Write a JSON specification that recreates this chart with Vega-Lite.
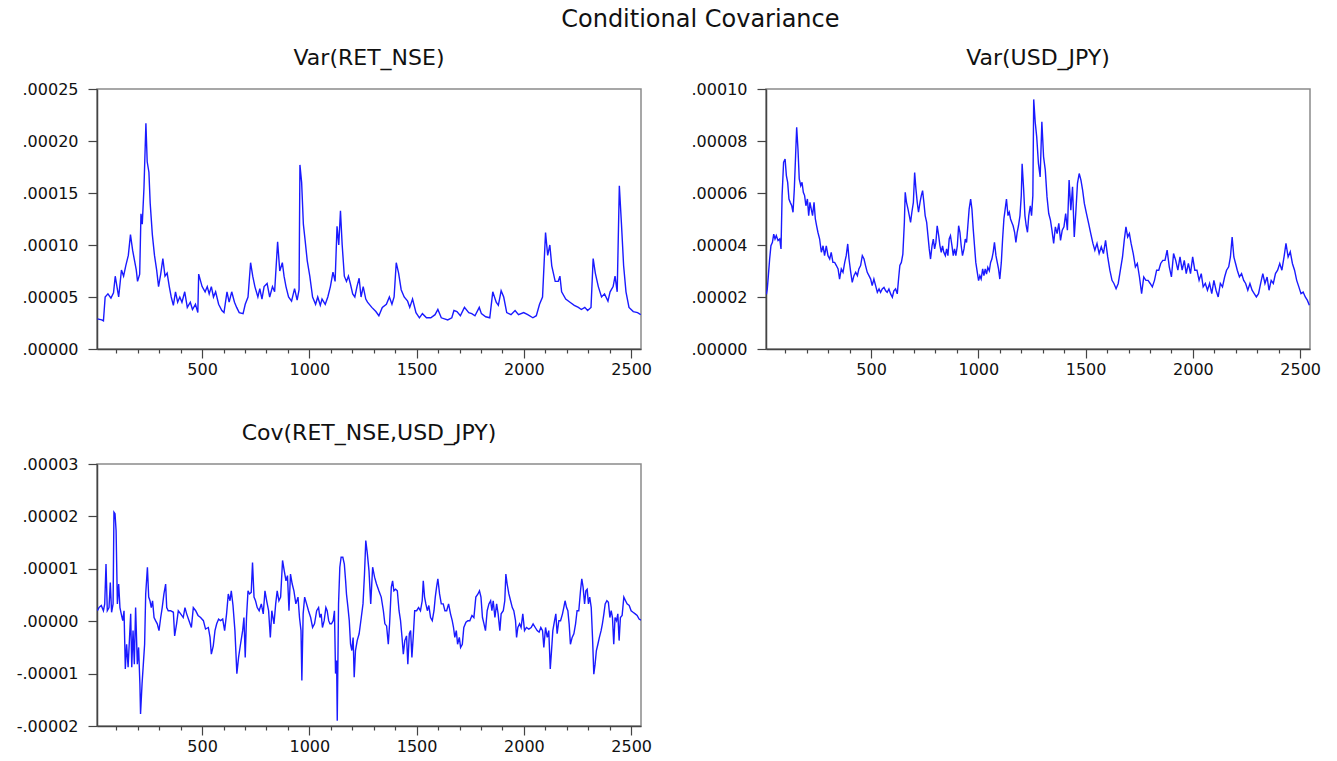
{
"$schema": "https://vega.github.io/schema/vega-lite/v6.json",
"background": "white",
"padding": {"left": 15, "top": 8, "right": 5, "bottom": 5},
"title": {"text": "Conditional Covariance", "font": "DejaVu Sans", "fontSize": 24, "fontWeight": "normal", "color": "#111", "anchor": "middle", "dx": 32, "offset": 14},
"bounds": "flush",
"columns": 2,
"spacing": {"row": 115, "column": 125},
"config": {
  "view": {"stroke": "#8a8a8a", "strokeWidth": 1.5},
  "axis": {"labelFont": "DejaVu Sans", "labelFontSize": 16, "labelColor": "#111", "domainColor": "#444", "domainWidth": 1.5, "tickColor": "#444", "tickWidth": 1.2, "grid": false},
  "title": {"font": "DejaVu Sans", "fontSize": 22, "fontWeight": "normal", "color": "#111", "anchor": "middle", "offset": 11}
},
"datasets": {
"nse": [{"t":12,"v":2.9e-5},{"t":32,"v":2.8e-5},{"t":40,"v":2.7e-5},{"t":48,"v":5.0e-5},{"t":61,"v":5.3e-5},{"t":75,"v":4.9e-5},{"t":87,"v":5.4e-5},{"t":95,"v":7.0e-5},{"t":111,"v":5.0e-5},{"t":124,"v":7.6e-5},{"t":134,"v":7.0e-5},{"t":144,"v":8.0e-5},{"t":156,"v":9.0e-5},{"t":166,"v":11.0e-5},{"t":176,"v":9.5e-5},{"t":185,"v":8.5e-5},{"t":193,"v":7.6e-5},{"t":199,"v":6.5e-5},{"t":209,"v":7.2e-5},{"t":215,"v":13.0e-5},{"t":221,"v":12.0e-5},{"t":229,"v":15.5e-5},{"t":238,"v":21.7e-5},{"t":244,"v":18.0e-5},{"t":252,"v":17.0e-5},{"t":258,"v":14.0e-5},{"t":268,"v":11.0e-5},{"t":278,"v":9.0e-5},{"t":288,"v":7.6e-5},{"t":297,"v":6.0e-5},{"t":307,"v":7.2e-5},{"t":317,"v":8.7e-5},{"t":327,"v":7.0e-5},{"t":337,"v":7.3e-5},{"t":347,"v":6.0e-5},{"t":356,"v":5.0e-5},{"t":366,"v":4.2e-5},{"t":376,"v":5.5e-5},{"t":386,"v":4.5e-5},{"t":396,"v":5.0e-5},{"t":406,"v":4.5e-5},{"t":419,"v":5.5e-5},{"t":431,"v":4.0e-5},{"t":445,"v":4.5e-5},{"t":455,"v":3.8e-5},{"t":469,"v":4.3e-5},{"t":480,"v":3.5e-5},{"t":484,"v":7.2e-5},{"t":500,"v":6.0e-5},{"t":514,"v":5.5e-5},{"t":524,"v":6.0e-5},{"t":533,"v":5.3e-5},{"t":543,"v":6.0e-5},{"t":553,"v":5.0e-5},{"t":563,"v":5.5e-5},{"t":577,"v":4.3e-5},{"t":592,"v":3.7e-5},{"t":602,"v":3.5e-5},{"t":616,"v":5.5e-5},{"t":626,"v":4.5e-5},{"t":638,"v":5.5e-5},{"t":651,"v":4.5e-5},{"t":661,"v":4.0e-5},{"t":673,"v":3.5e-5},{"t":691,"v":3.4e-5},{"t":701,"v":4.3e-5},{"t":714,"v":5.0e-5},{"t":726,"v":8.3e-5},{"t":736,"v":7.0e-5},{"t":746,"v":6.0e-5},{"t":760,"v":5.0e-5},{"t":769,"v":5.8e-5},{"t":779,"v":4.8e-5},{"t":789,"v":6.0e-5},{"t":803,"v":6.3e-5},{"t":815,"v":5.0e-5},{"t":828,"v":6.0e-5},{"t":838,"v":5.5e-5},{"t":852,"v":10.3e-5},{"t":862,"v":7.5e-5},{"t":874,"v":8.3e-5},{"t":882,"v":7.0e-5},{"t":891,"v":6.0e-5},{"t":903,"v":5.0e-5},{"t":917,"v":4.6e-5},{"t":931,"v":5.8e-5},{"t":943,"v":4.7e-5},{"t":952,"v":5.7e-5},{"t":956,"v":17.7e-5},{"t":964,"v":16.0e-5},{"t":972,"v":12.0e-5},{"t":980,"v":10.5e-5},{"t":990,"v":8.5e-5},{"t":1002,"v":7.0e-5},{"t":1015,"v":5.0e-5},{"t":1029,"v":4.3e-5},{"t":1039,"v":5.0e-5},{"t":1051,"v":4.2e-5},{"t":1059,"v":4.8e-5},{"t":1074,"v":4.3e-5},{"t":1086,"v":5.0e-5},{"t":1098,"v":6.0e-5},{"t":1110,"v":7.4e-5},{"t":1120,"v":6.5e-5},{"t":1129,"v":11.8e-5},{"t":1137,"v":10.0e-5},{"t":1145,"v":13.3e-5},{"t":1153,"v":10.0e-5},{"t":1163,"v":7.0e-5},{"t":1173,"v":6.5e-5},{"t":1182,"v":7.0e-5},{"t":1192,"v":6.2e-5},{"t":1202,"v":5.3e-5},{"t":1212,"v":5.0e-5},{"t":1222,"v":6.0e-5},{"t":1232,"v":6.8e-5},{"t":1241,"v":5.0e-5},{"t":1251,"v":6.0e-5},{"t":1263,"v":4.8e-5},{"t":1271,"v":4.5e-5},{"t":1291,"v":4.0e-5},{"t":1310,"v":3.6e-5},{"t":1324,"v":3.2e-5},{"t":1340,"v":4.0e-5},{"t":1359,"v":4.3e-5},{"t":1373,"v":5.0e-5},{"t":1385,"v":4.3e-5},{"t":1395,"v":5.0e-5},{"t":1405,"v":8.3e-5},{"t":1416,"v":7.3e-5},{"t":1428,"v":5.7e-5},{"t":1442,"v":5.0e-5},{"t":1458,"v":4.6e-5},{"t":1468,"v":4.0e-5},{"t":1481,"v":4.8e-5},{"t":1497,"v":3.5e-5},{"t":1513,"v":3.0e-5},{"t":1527,"v":3.4e-5},{"t":1546,"v":3.0e-5},{"t":1566,"v":3.0e-5},{"t":1586,"v":3.3e-5},{"t":1599,"v":3.8e-5},{"t":1615,"v":3.0e-5},{"t":1645,"v":2.8e-5},{"t":1664,"v":3.0e-5},{"t":1674,"v":3.7e-5},{"t":1688,"v":3.6e-5},{"t":1704,"v":3.2e-5},{"t":1723,"v":4.0e-5},{"t":1743,"v":3.5e-5},{"t":1757,"v":3.4e-5},{"t":1772,"v":3.2e-5},{"t":1792,"v":4.0e-5},{"t":1802,"v":3.4e-5},{"t":1822,"v":3.1e-5},{"t":1841,"v":3.0e-5},{"t":1855,"v":5.5e-5},{"t":1871,"v":4.5e-5},{"t":1881,"v":4.2e-5},{"t":1894,"v":5.6e-5},{"t":1906,"v":5.0e-5},{"t":1920,"v":3.5e-5},{"t":1940,"v":3.3e-5},{"t":1959,"v":3.7e-5},{"t":1975,"v":3.3e-5},{"t":1999,"v":3.5e-5},{"t":2018,"v":3.3e-5},{"t":2042,"v":3.0e-5},{"t":2058,"v":3.2e-5},{"t":2073,"v":4.3e-5},{"t":2087,"v":5.0e-5},{"t":2101,"v":11.2e-5},{"t":2111,"v":9.0e-5},{"t":2121,"v":10.0e-5},{"t":2130,"v":8.0e-5},{"t":2146,"v":6.5e-5},{"t":2160,"v":6.5e-5},{"t":2168,"v":7.0e-5},{"t":2176,"v":5.5e-5},{"t":2195,"v":4.8e-5},{"t":2215,"v":4.5e-5},{"t":2235,"v":4.2e-5},{"t":2254,"v":4.0e-5},{"t":2268,"v":3.8e-5},{"t":2284,"v":4.0e-5},{"t":2297,"v":3.7e-5},{"t":2313,"v":4.0e-5},{"t":2323,"v":8.7e-5},{"t":2333,"v":7.3e-5},{"t":2347,"v":6.0e-5},{"t":2362,"v":5.0e-5},{"t":2376,"v":5.3e-5},{"t":2392,"v":4.6e-5},{"t":2402,"v":5.5e-5},{"t":2416,"v":6.0e-5},{"t":2425,"v":7.0e-5},{"t":2435,"v":5.5e-5},{"t":2445,"v":15.7e-5},{"t":2455,"v":12.0e-5},{"t":2465,"v":8.0e-5},{"t":2476,"v":5.5e-5},{"t":2490,"v":4.0e-5},{"t":2510,"v":3.6e-5},{"t":2530,"v":3.5e-5},{"t":2545,"v":3.3e-5}],
"jpy": [{"t":12,"v":2.1e-5},{"t":16,"v":2.31e-5},{"t":21,"v":2.82e-5},{"t":27,"v":3.46e-5},{"t":33,"v":3.97e-5},{"t":40,"v":4.1e-5},{"t":46,"v":4.42e-5},{"t":52,"v":4.23e-5},{"t":58,"v":4.36e-5},{"t":66,"v":4.17e-5},{"t":74,"v":4.23e-5},{"t":80,"v":3.85e-5},{"t":85,"v":5.9e-5},{"t":92,"v":7.18e-5},{"t":99,"v":7.31e-5},{"t":105,"v":6.67e-5},{"t":111,"v":6.41e-5},{"t":117,"v":5.77e-5},{"t":123,"v":5.64e-5},{"t":130,"v":5.51e-5},{"t":136,"v":5.26e-5},{"t":142,"v":6.15e-5},{"t":148,"v":7.44e-5},{"t":153,"v":8.53e-5},{"t":159,"v":7.69e-5},{"t":165,"v":6.54e-5},{"t":172,"v":6.28e-5},{"t":178,"v":6.41e-5},{"t":184,"v":6.03e-5},{"t":190,"v":5.9e-5},{"t":196,"v":5.51e-5},{"t":203,"v":5.77e-5},{"t":209,"v":5.13e-5},{"t":215,"v":5.64e-5},{"t":221,"v":5.38e-5},{"t":227,"v":5.13e-5},{"t":234,"v":5.64e-5},{"t":240,"v":5.0e-5},{"t":246,"v":4.74e-5},{"t":252,"v":4.49e-5},{"t":260,"v":4.23e-5},{"t":268,"v":3.72e-5},{"t":276,"v":3.97e-5},{"t":283,"v":3.59e-5},{"t":291,"v":3.97e-5},{"t":299,"v":3.59e-5},{"t":307,"v":3.46e-5},{"t":314,"v":3.72e-5},{"t":322,"v":3.33e-5},{"t":330,"v":3.33e-5},{"t":338,"v":3.21e-5},{"t":346,"v":3.08e-5},{"t":353,"v":2.69e-5},{"t":361,"v":3.08e-5},{"t":369,"v":2.95e-5},{"t":377,"v":3.33e-5},{"t":384,"v":3.59e-5},{"t":391,"v":4.04e-5},{"t":397,"v":3.46e-5},{"t":405,"v":2.95e-5},{"t":412,"v":2.56e-5},{"t":420,"v":2.82e-5},{"t":428,"v":2.95e-5},{"t":436,"v":2.82e-5},{"t":443,"v":3.08e-5},{"t":451,"v":3.21e-5},{"t":459,"v":3.59e-5},{"t":467,"v":3.46e-5},{"t":474,"v":3.21e-5},{"t":482,"v":2.95e-5},{"t":490,"v":2.82e-5},{"t":498,"v":2.69e-5},{"t":505,"v":2.44e-5},{"t":513,"v":2.69e-5},{"t":521,"v":2.44e-5},{"t":529,"v":2.18e-5},{"t":537,"v":2.31e-5},{"t":544,"v":2.18e-5},{"t":552,"v":2.31e-5},{"t":560,"v":2.37e-5},{"t":568,"v":2.24e-5},{"t":575,"v":2.18e-5},{"t":583,"v":2.31e-5},{"t":591,"v":2.12e-5},{"t":599,"v":1.99e-5},{"t":606,"v":2.24e-5},{"t":614,"v":2.31e-5},{"t":622,"v":2.12e-5},{"t":628,"v":2.69e-5},{"t":634,"v":3.21e-5},{"t":641,"v":3.33e-5},{"t":648,"v":3.65e-5},{"t":655,"v":4.87e-5},{"t":659,"v":6.03e-5},{"t":665,"v":5.64e-5},{"t":672,"v":5.38e-5},{"t":678,"v":5.13e-5},{"t":684,"v":4.87e-5},{"t":690,"v":5.26e-5},{"t":697,"v":5.64e-5},{"t":703,"v":6.79e-5},{"t":709,"v":6.15e-5},{"t":715,"v":5.64e-5},{"t":721,"v":5.26e-5},{"t":728,"v":5.64e-5},{"t":734,"v":5.9e-5},{"t":740,"v":6.09e-5},{"t":746,"v":5.64e-5},{"t":752,"v":5.13e-5},{"t":759,"v":4.87e-5},{"t":765,"v":4.36e-5},{"t":771,"v":3.85e-5},{"t":777,"v":3.46e-5},{"t":784,"v":3.97e-5},{"t":790,"v":4.23e-5},{"t":796,"v":3.85e-5},{"t":802,"v":4.1e-5},{"t":808,"v":4.74e-5},{"t":815,"v":4.36e-5},{"t":821,"v":3.97e-5},{"t":827,"v":3.72e-5},{"t":833,"v":3.97e-5},{"t":839,"v":3.72e-5},{"t":846,"v":3.59e-5},{"t":852,"v":3.85e-5},{"t":858,"v":3.59e-5},{"t":864,"v":4.23e-5},{"t":870,"v":4.36e-5},{"t":877,"v":3.97e-5},{"t":883,"v":3.59e-5},{"t":889,"v":3.85e-5},{"t":895,"v":3.59e-5},{"t":902,"v":3.97e-5},{"t":908,"v":4.74e-5},{"t":914,"v":4.49e-5},{"t":920,"v":3.97e-5},{"t":926,"v":3.59e-5},{"t":933,"v":3.85e-5},{"t":939,"v":4.23e-5},{"t":945,"v":4.1e-5},{"t":951,"v":4.74e-5},{"t":957,"v":5.38e-5},{"t":964,"v":5.77e-5},{"t":970,"v":5.38e-5},{"t":976,"v":4.62e-5},{"t":982,"v":3.97e-5},{"t":988,"v":3.33e-5},{"t":995,"v":2.95e-5},{"t":1001,"v":2.63e-5},{"t":1007,"v":2.82e-5},{"t":1013,"v":2.69e-5},{"t":1020,"v":3.08e-5},{"t":1026,"v":2.82e-5},{"t":1032,"v":3.08e-5},{"t":1038,"v":2.88e-5},{"t":1044,"v":3.14e-5},{"t":1051,"v":3.01e-5},{"t":1057,"v":3.33e-5},{"t":1063,"v":3.46e-5},{"t":1069,"v":3.72e-5},{"t":1075,"v":4.1e-5},{"t":1082,"v":3.59e-5},{"t":1088,"v":3.33e-5},{"t":1094,"v":3.08e-5},{"t":1100,"v":2.69e-5},{"t":1107,"v":3.33e-5},{"t":1113,"v":4.23e-5},{"t":1119,"v":5.0e-5},{"t":1125,"v":5.38e-5},{"t":1131,"v":5.77e-5},{"t":1138,"v":5.13e-5},{"t":1144,"v":5.26e-5},{"t":1150,"v":5.0e-5},{"t":1156,"v":4.87e-5},{"t":1162,"v":4.74e-5},{"t":1169,"v":4.49e-5},{"t":1175,"v":4.1e-5},{"t":1181,"v":4.49e-5},{"t":1187,"v":4.74e-5},{"t":1194,"v":5.13e-5},{"t":1200,"v":5.9e-5},{"t":1204,"v":7.12e-5},{"t":1211,"v":6.15e-5},{"t":1217,"v":5.13e-5},{"t":1223,"v":4.74e-5},{"t":1229,"v":4.49e-5},{"t":1235,"v":5.13e-5},{"t":1242,"v":5.51e-5},{"t":1248,"v":5.13e-5},{"t":1254,"v":5.9e-5},{"t":1258,"v":9.6e-5},{"t":1265,"v":8.72e-5},{"t":1272,"v":8.16e-5},{"t":1280,"v":7.14e-5},{"t":1288,"v":6.62e-5},{"t":1296,"v":8.74e-5},{"t":1304,"v":7.39e-5},{"t":1312,"v":6.88e-5},{"t":1320,"v":5.85e-5},{"t":1328,"v":5.21e-5},{"t":1336,"v":4.96e-5},{"t":1343,"v":4.57e-5},{"t":1351,"v":4.06e-5},{"t":1359,"v":4.7e-5},{"t":1367,"v":4.44e-5},{"t":1375,"v":4.83e-5},{"t":1383,"v":4.18e-5},{"t":1391,"v":4.57e-5},{"t":1399,"v":4.7e-5},{"t":1407,"v":5.21e-5},{"t":1415,"v":4.57e-5},{"t":1423,"v":6.5e-5},{"t":1431,"v":5.34e-5},{"t":1439,"v":6.24e-5},{"t":1447,"v":4.31e-5},{"t":1454,"v":5.21e-5},{"t":1462,"v":6.37e-5},{"t":1470,"v":6.75e-5},{"t":1478,"v":6.5e-5},{"t":1486,"v":6.11e-5},{"t":1494,"v":5.6e-5},{"t":1504,"v":5.21e-5},{"t":1514,"v":4.83e-5},{"t":1524,"v":4.44e-5},{"t":1534,"v":4.06e-5},{"t":1543,"v":3.8e-5},{"t":1553,"v":4.06e-5},{"t":1563,"v":3.67e-5},{"t":1573,"v":3.93e-5},{"t":1583,"v":3.67e-5},{"t":1593,"v":4.18e-5},{"t":1603,"v":3.54e-5},{"t":1613,"v":3.03e-5},{"t":1623,"v":2.64e-5},{"t":1632,"v":2.52e-5},{"t":1642,"v":2.32e-5},{"t":1652,"v":2.52e-5},{"t":1662,"v":3.03e-5},{"t":1672,"v":3.54e-5},{"t":1680,"v":4.18e-5},{"t":1688,"v":4.7e-5},{"t":1696,"v":4.31e-5},{"t":1704,"v":4.44e-5},{"t":1712,"v":4.06e-5},{"t":1722,"v":3.67e-5},{"t":1732,"v":3.16e-5},{"t":1741,"v":3.29e-5},{"t":1751,"v":2.77e-5},{"t":1761,"v":2.13e-5},{"t":1771,"v":2.77e-5},{"t":1781,"v":2.64e-5},{"t":1791,"v":2.64e-5},{"t":1801,"v":2.52e-5},{"t":1811,"v":2.39e-5},{"t":1821,"v":2.64e-5},{"t":1831,"v":3.03e-5},{"t":1841,"v":3.03e-5},{"t":1850,"v":3.29e-5},{"t":1860,"v":3.41e-5},{"t":1870,"v":3.41e-5},{"t":1880,"v":3.8e-5},{"t":1890,"v":3.16e-5},{"t":1900,"v":2.77e-5},{"t":1910,"v":3.67e-5},{"t":1920,"v":3.41e-5},{"t":1930,"v":3.03e-5},{"t":1940,"v":3.54e-5},{"t":1950,"v":3.03e-5},{"t":1960,"v":3.41e-5},{"t":1969,"v":2.9e-5},{"t":1979,"v":3.29e-5},{"t":1989,"v":2.9e-5},{"t":1999,"v":3.54e-5},{"t":2009,"v":3.03e-5},{"t":2019,"v":3.03e-5},{"t":2029,"v":2.64e-5},{"t":2039,"v":2.9e-5},{"t":2048,"v":2.39e-5},{"t":2058,"v":2.52e-5},{"t":2068,"v":2.26e-5},{"t":2078,"v":2.52e-5},{"t":2088,"v":2.13e-5},{"t":2098,"v":2.64e-5},{"t":2108,"v":2.26e-5},{"t":2118,"v":2.0e-5},{"t":2128,"v":2.52e-5},{"t":2138,"v":2.39e-5},{"t":2148,"v":2.77e-5},{"t":2157,"v":3.03e-5},{"t":2167,"v":3.16e-5},{"t":2175,"v":3.54e-5},{"t":2183,"v":4.31e-5},{"t":2191,"v":3.54e-5},{"t":2199,"v":3.29e-5},{"t":2207,"v":3.03e-5},{"t":2217,"v":2.77e-5},{"t":2227,"v":2.9e-5},{"t":2237,"v":2.64e-5},{"t":2246,"v":2.52e-5},{"t":2256,"v":2.26e-5},{"t":2266,"v":2.52e-5},{"t":2276,"v":2.26e-5},{"t":2286,"v":2.13e-5},{"t":2296,"v":2.0e-5},{"t":2306,"v":2.13e-5},{"t":2316,"v":2.52e-5},{"t":2326,"v":2.9e-5},{"t":2336,"v":2.52e-5},{"t":2346,"v":2.77e-5},{"t":2355,"v":2.26e-5},{"t":2365,"v":2.64e-5},{"t":2375,"v":2.52e-5},{"t":2385,"v":2.9e-5},{"t":2395,"v":3.03e-5},{"t":2405,"v":3.29e-5},{"t":2415,"v":3.03e-5},{"t":2425,"v":3.54e-5},{"t":2434,"v":4.06e-5},{"t":2444,"v":3.54e-5},{"t":2454,"v":3.74e-5},{"t":2464,"v":3.29e-5},{"t":2474,"v":3.03e-5},{"t":2484,"v":2.64e-5},{"t":2494,"v":2.39e-5},{"t":2504,"v":2.13e-5},{"t":2514,"v":2.19e-5},{"t":2524,"v":2.0e-5},{"t":2534,"v":1.87e-5},{"t":2543,"v":1.68e-5}],
"cov": [{"t":12,"v":0.2e-5},{"t":19,"v":0.26e-5},{"t":30,"v":0.3e-5},{"t":40,"v":0.2e-5},{"t":46,"v":0.33e-5},{"t":52,"v":1.09e-5},{"t":58,"v":0.2e-5},{"t":66,"v":0.26e-5},{"t":72,"v":0.74e-5},{"t":78,"v":0.17e-5},{"t":85,"v":0.33e-5},{"t":89,"v":2.08e-5},{"t":94,"v":2.05e-5},{"t":99,"v":1.73e-5},{"t":105,"v":0.33e-5},{"t":111,"v":0.71e-5},{"t":117,"v":0.26e-5},{"t":123,"v":0.14e-5},{"t":130,"v":0.01e-5},{"t":136,"v":0.2e-5},{"t":142,"v":-0.91e-5},{"t":148,"v":-0.44e-5},{"t":155,"v":-0.88e-5},{"t":161,"v":-0.37e-5},{"t":167,"v":0.14e-5},{"t":172,"v":-0.88e-5},{"t":178,"v":-0.18e-5},{"t":184,"v":-0.82e-5},{"t":190,"v":0.26e-5},{"t":198,"v":-0.82e-5},{"t":204,"v":-0.5e-5},{"t":210,"v":-1.2e-5},{"t":213,"v":-1.77e-5},{"t":220,"v":-1.2e-5},{"t":226,"v":-0.82e-5},{"t":232,"v":-0.44e-5},{"t":237,"v":0.52e-5},{"t":245,"v":1.03e-5},{"t":251,"v":0.46e-5},{"t":257,"v":0.39e-5},{"t":263,"v":0.26e-5},{"t":269,"v":0.39e-5},{"t":276,"v":0.07e-5},{"t":283,"v":0.01e-5},{"t":291,"v":-0.05e-5},{"t":299,"v":-0.18e-5},{"t":307,"v":0.07e-5},{"t":314,"v":0.26e-5},{"t":322,"v":0.52e-5},{"t":330,"v":0.71e-5},{"t":335,"v":0.26e-5},{"t":342,"v":0.2e-5},{"t":353,"v":0.2e-5},{"t":366,"v":0.17e-5},{"t":372,"v":-0.28e-5},{"t":381,"v":-0.05e-5},{"t":389,"v":0.2e-5},{"t":400,"v":0.14e-5},{"t":412,"v":0.07e-5},{"t":420,"v":0.26e-5},{"t":428,"v":0.14e-5},{"t":439,"v":0.01e-5},{"t":450,"v":-0.12e-5},{"t":459,"v":0.26e-5},{"t":470,"v":0.2e-5},{"t":481,"v":0.11e-5},{"t":493,"v":0.07e-5},{"t":506,"v":0.01e-5},{"t":516,"v":-0.15e-5},{"t":529,"v":-0.12e-5},{"t":537,"v":-0.31e-5},{"t":543,"v":-0.63e-5},{"t":552,"v":-0.47e-5},{"t":560,"v":-0.18e-5},{"t":568,"v":-0.05e-5},{"t":577,"v":0.04e-5},{"t":586,"v":0.01e-5},{"t":596,"v":0.04e-5},{"t":605,"v":-0.18e-5},{"t":614,"v":0.14e-5},{"t":622,"v":0.52e-5},{"t":630,"v":0.39e-5},{"t":636,"v":0.58e-5},{"t":644,"v":0.3e-5},{"t":653,"v":-0.18e-5},{"t":662,"v":-1.0e-5},{"t":670,"v":-0.69e-5},{"t":679,"v":-0.44e-5},{"t":689,"v":-0.18e-5},{"t":695,"v":0.07e-5},{"t":701,"v":-0.69e-5},{"t":707,"v":0.07e-5},{"t":714,"v":0.58e-5},{"t":721,"v":0.52e-5},{"t":729,"v":0.55e-5},{"t":735,"v":1.12e-5},{"t":742,"v":0.46e-5},{"t":749,"v":0.39e-5},{"t":757,"v":0.26e-5},{"t":766,"v":0.2e-5},{"t":776,"v":0.33e-5},{"t":785,"v":0.14e-5},{"t":793,"v":0.58e-5},{"t":801,"v":0.39e-5},{"t":810,"v":0.2e-5},{"t":818,"v":-0.31e-5},{"t":825,"v":0.2e-5},{"t":835,"v":-0.05e-5},{"t":843,"v":0.33e-5},{"t":850,"v":0.58e-5},{"t":858,"v":0.39e-5},{"t":866,"v":0.46e-5},{"t":875,"v":1.16e-5},{"t":883,"v":0.96e-5},{"t":891,"v":0.77e-5},{"t":898,"v":0.87e-5},{"t":905,"v":0.2e-5},{"t":912,"v":0.9e-5},{"t":920,"v":0.71e-5},{"t":928,"v":0.58e-5},{"t":937,"v":0.33e-5},{"t":947,"v":0.46e-5},{"t":954,"v":0.07e-5},{"t":961,"v":-0.18e-5},{"t":965,"v":-1.13e-5},{"t":971,"v":0.14e-5},{"t":978,"v":0.46e-5},{"t":987,"v":0.33e-5},{"t":996,"v":0.2e-5},{"t":1006,"v":0.07e-5},{"t":1015,"v":-0.12e-5},{"t":1024,"v":-0.05e-5},{"t":1034,"v":0.2e-5},{"t":1043,"v":0.26e-5},{"t":1049,"v":0.07e-5},{"t":1055,"v":0.14e-5},{"t":1061,"v":-0.12e-5},{"t":1069,"v":0.01e-5},{"t":1077,"v":0.26e-5},{"t":1083,"v":0.2e-5},{"t":1090,"v":0.01e-5},{"t":1096,"v":-0.05e-5},{"t":1103,"v":-0.05e-5},{"t":1111,"v":0.01e-5},{"t":1117,"v":0.2e-5},{"t":1122,"v":-1.0e-5},{"t":1127,"v":-0.75e-5},{"t":1130,"v":-1.9e-5},{"t":1136,"v":0.33e-5},{"t":1142,"v":1.03e-5},{"t":1148,"v":1.22e-5},{"t":1156,"v":1.22e-5},{"t":1163,"v":1.09e-5},{"t":1169,"v":0.77e-5},{"t":1173,"v":0.52e-5},{"t":1180,"v":0.26e-5},{"t":1186,"v":0.01e-5},{"t":1192,"v":-0.44e-5},{"t":1198,"v":-0.56e-5},{"t":1204,"v":-0.31e-5},{"t":1209,"v":-1.07e-5},{"t":1215,"v":-0.56e-5},{"t":1223,"v":-0.37e-5},{"t":1232,"v":-0.24e-5},{"t":1242,"v":0.07e-5},{"t":1250,"v":0.33e-5},{"t":1257,"v":0.9e-5},{"t":1263,"v":1.54e-5},{"t":1270,"v":1.3e-5},{"t":1278,"v":0.96e-5},{"t":1286,"v":0.33e-5},{"t":1295,"v":1.03e-5},{"t":1304,"v":0.84e-5},{"t":1313,"v":0.71e-5},{"t":1324,"v":0.58e-5},{"t":1335,"v":0.46e-5},{"t":1345,"v":0.2e-5},{"t":1352,"v":-0.05e-5},{"t":1360,"v":-0.09e-5},{"t":1368,"v":-0.44e-5},{"t":1374,"v":-0.05e-5},{"t":1382,"v":0.65e-5},{"t":1388,"v":0.77e-5},{"t":1394,"v":0.58e-5},{"t":1402,"v":0.61e-5},{"t":1410,"v":0.58e-5},{"t":1418,"v":0.2e-5},{"t":1425,"v":0.01e-5},{"t":1432,"v":-0.31e-5},{"t":1438,"v":-0.63e-5},{"t":1445,"v":-0.37e-5},{"t":1453,"v":-0.28e-5},{"t":1459,"v":-0.82e-5},{"t":1466,"v":-0.24e-5},{"t":1472,"v":-0.18e-5},{"t":1478,"v":-0.69e-5},{"t":1484,"v":-0.31e-5},{"t":1491,"v":0.2e-5},{"t":1500,"v":0.2e-5},{"t":1509,"v":0.26e-5},{"t":1518,"v":0.2e-5},{"t":1526,"v":0.39e-5},{"t":1531,"v":0.77e-5},{"t":1537,"v":0.46e-5},{"t":1543,"v":0.33e-5},{"t":1550,"v":0.2e-5},{"t":1557,"v":0.3e-5},{"t":1565,"v":0.07e-5},{"t":1573,"v":0.01e-5},{"t":1581,"v":0.2e-5},{"t":1587,"v":0.46e-5},{"t":1593,"v":0.65e-5},{"t":1599,"v":0.81e-5},{"t":1607,"v":0.52e-5},{"t":1615,"v":0.33e-5},{"t":1624,"v":0.33e-5},{"t":1632,"v":0.2e-5},{"t":1640,"v":0.2e-5},{"t":1649,"v":0.33e-5},{"t":1658,"v":0.14e-5},{"t":1666,"v":0.01e-5},{"t":1672,"v":-0.12e-5},{"t":1678,"v":-0.31e-5},{"t":1685,"v":-0.18e-5},{"t":1691,"v":-0.44e-5},{"t":1699,"v":-0.31e-5},{"t":1705,"v":-0.5e-5},{"t":1713,"v":-0.44e-5},{"t":1720,"v":-0.12e-5},{"t":1730,"v":-0.02e-5},{"t":1739,"v":0.01e-5},{"t":1748,"v":0.01e-5},{"t":1758,"v":0.11e-5},{"t":1767,"v":0.07e-5},{"t":1776,"v":0.46e-5},{"t":1786,"v":0.52e-5},{"t":1793,"v":0.58e-5},{"t":1800,"v":0.46e-5},{"t":1807,"v":0.07e-5},{"t":1814,"v":-0.05e-5},{"t":1821,"v":-0.18e-5},{"t":1829,"v":0.2e-5},{"t":1837,"v":0.33e-5},{"t":1845,"v":0.39e-5},{"t":1851,"v":0.2e-5},{"t":1857,"v":0.39e-5},{"t":1865,"v":0.07e-5},{"t":1873,"v":0.33e-5},{"t":1880,"v":0.14e-5},{"t":1888,"v":-0.18e-5},{"t":1894,"v":0.14e-5},{"t":1904,"v":0.2e-5},{"t":1911,"v":0.39e-5},{"t":1916,"v":0.9e-5},{"t":1922,"v":0.71e-5},{"t":1930,"v":0.52e-5},{"t":1938,"v":0.39e-5},{"t":1946,"v":0.26e-5},{"t":1953,"v":0.2e-5},{"t":1961,"v":0.01e-5},{"t":1966,"v":-0.31e-5},{"t":1972,"v":-0.12e-5},{"t":1980,"v":-0.05e-5},{"t":1987,"v":-0.12e-5},{"t":1995,"v":0.14e-5},{"t":2003,"v":-0.18e-5},{"t":2012,"v":-0.12e-5},{"t":2023,"v":-0.15e-5},{"t":2034,"v":-0.12e-5},{"t":2043,"v":-0.05e-5},{"t":2053,"v":-0.12e-5},{"t":2062,"v":-0.18e-5},{"t":2071,"v":-0.21e-5},{"t":2079,"v":-0.12e-5},{"t":2087,"v":-0.18e-5},{"t":2093,"v":-0.5e-5},{"t":2101,"v":-0.12e-5},{"t":2109,"v":-0.31e-5},{"t":2116,"v":-0.18e-5},{"t":2123,"v":-0.91e-5},{"t":2129,"v":-0.56e-5},{"t":2135,"v":-0.18e-5},{"t":2143,"v":0.01e-5},{"t":2149,"v":0.14e-5},{"t":2155,"v":-0.24e-5},{"t":2163,"v":0.01e-5},{"t":2171,"v":0.01e-5},{"t":2180,"v":0.14e-5},{"t":2186,"v":0.26e-5},{"t":2192,"v":0.39e-5},{"t":2199,"v":0.26e-5},{"t":2205,"v":0.2e-5},{"t":2211,"v":-0.05e-5},{"t":2217,"v":-0.44e-5},{"t":2225,"v":-0.31e-5},{"t":2233,"v":-0.24e-5},{"t":2241,"v":-0.05e-5},{"t":2248,"v":0.2e-5},{"t":2256,"v":0.2e-5},{"t":2264,"v":0.58e-5},{"t":2270,"v":0.81e-5},{"t":2276,"v":0.65e-5},{"t":2283,"v":0.33e-5},{"t":2289,"v":0.58e-5},{"t":2295,"v":0.61e-5},{"t":2301,"v":0.33e-5},{"t":2307,"v":0.46e-5},{"t":2314,"v":0.26e-5},{"t":2320,"v":-0.31e-5},{"t":2326,"v":-1.01e-5},{"t":2332,"v":-0.82e-5},{"t":2338,"v":-0.56e-5},{"t":2345,"v":-0.44e-5},{"t":2352,"v":-0.31e-5},{"t":2360,"v":-0.18e-5},{"t":2366,"v":-0.05e-5},{"t":2373,"v":0.14e-5},{"t":2379,"v":0.33e-5},{"t":2387,"v":0.39e-5},{"t":2394,"v":0.36e-5},{"t":2401,"v":0.07e-5},{"t":2407,"v":0.2e-5},{"t":2413,"v":0.07e-5},{"t":2419,"v":-0.44e-5},{"t":2425,"v":0.07e-5},{"t":2432,"v":0.01e-5},{"t":2438,"v":0.14e-5},{"t":2444,"v":-0.37e-5},{"t":2450,"v":0.07e-5},{"t":2458,"v":0.11e-5},{"t":2466,"v":0.46e-5},{"t":2474,"v":0.39e-5},{"t":2481,"v":0.33e-5},{"t":2491,"v":0.3e-5},{"t":2500,"v":0.2e-5},{"t":2509,"v":0.17e-5},{"t":2519,"v":0.14e-5},{"t":2528,"v":0.11e-5},{"t":2537,"v":0.04e-5},{"t":2546,"v":0.02e-5}]
},
"concat": [
{
  "width": 544, "height": 260,
  "title": {"text": "Var(RET_NSE)"},
  "data": {"name": "nse"},
  "mark": {"type": "line", "color": "#1a1aff", "strokeWidth": 1.4, "clip": true},
  "encoding": {
    "x": {"field": "t", "type": "quantitative", "title": null, "scale": {"domain": [10, 2546], "nice": false, "zero": false},
      "axis": {"values": [100,200,300,400,500,600,700,800,900,1000,1100,1200,1300,1400,1500,1600,1700,1800,1900,2000,2100,2200,2300,2400,2500], "labelExpr": "datum.value % 500 === 0 ? format(datum.value, 'd') : ''", "tickSize": {"condition": {"test": "datum.value % 500 !== 0", "value": 4}, "value": 9}, "labelPadding": 3, "labelOverlap": false, "labelFlush": false}},
    "y": {"field": "v", "type": "quantitative", "title": null, "scale": {"domain": [0, 0.00025], "nice": false, "zero": false},
      "axis": {"values": [0, 0.00005, 0.0001, 0.00015, 0.0002, 0.00025], "labelExpr": "(datum.value < 0 ? '-' : '') + replace(format(abs(datum.value), '.5f'), '0.', '.')", "tickSize": 9, "labelPadding": 10, "labelOverlap": false, "labelFlush": false}}
  }
},
{
  "width": 544, "height": 260,
  "title": {"text": "Var(USD_JPY)"},
  "data": {"name": "jpy"},
  "mark": {"type": "line", "color": "#1a1aff", "strokeWidth": 1.4, "clip": true},
  "encoding": {
    "x": {"field": "t", "type": "quantitative", "title": null, "scale": {"domain": [10, 2546], "nice": false, "zero": false},
      "axis": {"values": [100,200,300,400,500,600,700,800,900,1000,1100,1200,1300,1400,1500,1600,1700,1800,1900,2000,2100,2200,2300,2400,2500], "labelExpr": "datum.value % 500 === 0 ? format(datum.value, 'd') : ''", "tickSize": {"condition": {"test": "datum.value % 500 !== 0", "value": 4}, "value": 9}, "labelPadding": 3, "labelOverlap": false, "labelFlush": false}},
    "y": {"field": "v", "type": "quantitative", "title": null, "scale": {"domain": [0, 0.0001], "nice": false, "zero": false},
      "axis": {"values": [0, 0.00002, 0.00004, 0.00006, 0.00008, 0.0001], "labelExpr": "(datum.value < 0 ? '-' : '') + replace(format(abs(datum.value), '.5f'), '0.', '.')", "tickSize": 9, "labelPadding": 10, "labelOverlap": false, "labelFlush": false}}
  }
},
{
  "width": 544, "height": 262,
  "title": {"text": "Cov(RET_NSE,USD_JPY)"},
  "data": {"name": "cov"},
  "mark": {"type": "line", "color": "#1a1aff", "strokeWidth": 1.4, "clip": true},
  "encoding": {
    "x": {"field": "t", "type": "quantitative", "title": null, "scale": {"domain": [10, 2546], "nice": false, "zero": false},
      "axis": {"values": [100,200,300,400,500,600,700,800,900,1000,1100,1200,1300,1400,1500,1600,1700,1800,1900,2000,2100,2200,2300,2400,2500], "labelExpr": "datum.value % 500 === 0 ? format(datum.value, 'd') : ''", "tickSize": {"condition": {"test": "datum.value % 500 !== 0", "value": 4}, "value": 9}, "labelPadding": 3, "labelOverlap": false, "labelFlush": false}},
    "y": {"field": "v", "type": "quantitative", "title": null, "scale": {"domain": [-0.00002, 0.00003], "nice": false, "zero": false},
      "axis": {"values": [-0.00002, -0.00001, 0, 0.00001, 0.00002, 0.00003], "labelExpr": "(datum.value < 0 ? '-' : '') + replace(format(abs(datum.value), '.5f'), '0.', '.')", "tickSize": 9, "labelPadding": 10, "labelOverlap": false, "labelFlush": false}}
  }
}
]
}
